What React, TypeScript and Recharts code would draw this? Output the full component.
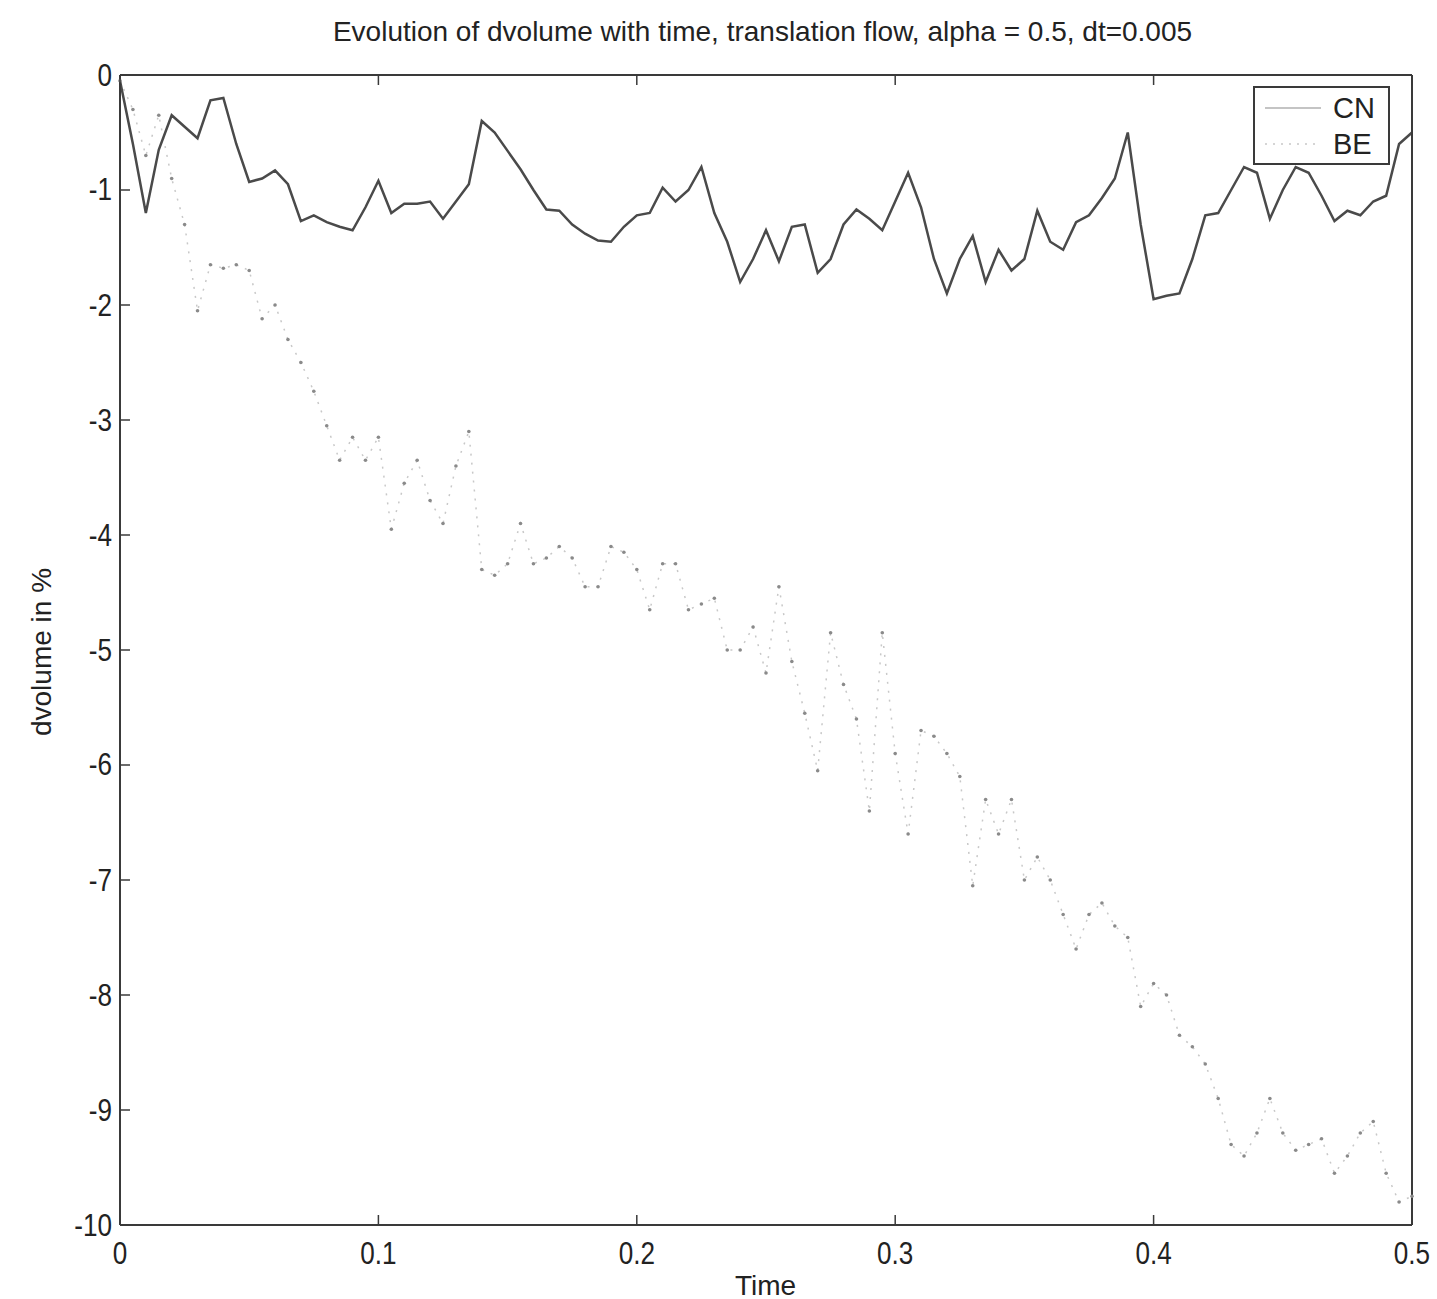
import { LineChart, Line, XAxis, YAxis } from 'recharts'

// time grid, dt = 0.005
const times = [
  0, 0.005, 0.01, 0.015, 0.02, 0.025, 0.03, 0.035, 0.04, 0.045,
  0.05, 0.055, 0.06, 0.065, 0.07, 0.075, 0.08, 0.085, 0.09, 0.095,
  0.1, 0.105, 0.11, 0.115, 0.12, 0.125, 0.13, 0.135, 0.14, 0.145,
  0.15, 0.155, 0.16, 0.165, 0.17, 0.175, 0.18, 0.185, 0.19, 0.195,
  0.2, 0.205, 0.21, 0.215, 0.22, 0.225, 0.23, 0.235, 0.24, 0.245,
  0.25, 0.255, 0.26, 0.265, 0.27, 0.275, 0.28, 0.285, 0.29, 0.295,
  0.3, 0.305, 0.31, 0.315, 0.32, 0.325, 0.33, 0.335, 0.34, 0.345,
  0.35, 0.355, 0.36, 0.365, 0.37, 0.375, 0.38, 0.385, 0.39, 0.395,
  0.4, 0.405, 0.41, 0.415, 0.42, 0.425, 0.43, 0.435, 0.44, 0.445,
  0.45, 0.455, 0.46, 0.465, 0.47, 0.475, 0.48, 0.485, 0.49, 0.495,
  0.5,
]

const cnValues = [
  -0.05, -0.6, -1.2, -0.65, -0.35, -0.45, -0.55, -0.22, -0.2, -0.6,
  -0.93, -0.9, -0.83, -0.95, -1.27, -1.22, -1.28, -1.32, -1.35, -1.15,
  -0.92, -1.2, -1.12, -1.12, -1.1, -1.25, -1.1, -0.95, -0.4, -0.5,
  -0.66, -0.82, -1.0, -1.17, -1.18, -1.3, -1.38, -1.44, -1.45, -1.32,
  -1.22, -1.2, -0.98, -1.1, -1.0, -0.8, -1.2, -1.45, -1.8, -1.6,
  -1.35, -1.62, -1.32, -1.3, -1.72, -1.6, -1.3, -1.17, -1.25, -1.35,
  -1.1, -0.85, -1.15, -1.6, -1.9, -1.6, -1.4, -1.8, -1.52, -1.7,
  -1.6, -1.18, -1.45, -1.52, -1.28, -1.22, -1.07, -0.9, -0.5, -1.3,
  -1.95, -1.92, -1.9, -1.6, -1.22, -1.2, -1.0, -0.8, -0.85, -1.25,
  -1.0, -0.8, -0.85, -1.05, -1.27, -1.18, -1.22, -1.1, -1.05, -0.6,
  -0.5,
]

const beValues = [
  -0.05, -0.3, -0.7, -0.35, -0.9, -1.3, -2.05, -1.65, -1.68, -1.65,
  -1.7, -2.12, -2.0, -2.3, -2.5, -2.75, -3.05, -3.35, -3.15, -3.35,
  -3.15, -3.95, -3.55, -3.35, -3.7, -3.9, -3.4, -3.1, -4.3, -4.35,
  -4.25, -3.9, -4.25, -4.2, -4.1, -4.2, -4.45, -4.45, -4.1, -4.15,
  -4.3, -4.65, -4.25, -4.25, -4.65, -4.6, -4.55, -5.0, -5.0, -4.8,
  -5.2, -4.45, -5.1, -5.55, -6.05, -4.85, -5.3, -5.6, -6.4, -4.85,
  -5.9, -6.6, -5.7, -5.75, -5.9, -6.1, -7.05, -6.3, -6.6, -6.3,
  -7.0, -6.8, -7.0, -7.3, -7.6, -7.3, -7.2, -7.4, -7.5, -8.1,
  -7.9, -8.0, -8.35, -8.45, -8.6, -8.9, -9.3, -9.4, -9.2, -8.9,
  -9.2, -9.35, -9.3, -9.25, -9.55, -9.4, -9.2, -9.1, -9.55, -9.8,
  -9.75,
]

const xTicks = [0, 0.1, 0.2, 0.3, 0.4, 0.5]
const yTicks = [0, -1, -2, -3, -4, -5, -6, -7, -8, -9, -10]
const seriesNames = ['CN', 'BE']

const chartData = times.map((t, i) => ({ t, cn: cnValues[i], be: beValues[i] }))

const FONT = "'Liberation Sans', Arial, sans-serif"
const AXIS = '#3a3a3a'

const LeftTick = ({ x, y, payload }: any) => (
  <g>
    <line x1={x} y1={y} x2={x + 10} y2={y} stroke={AXIS} strokeWidth={1.5} />
    <text
      x={x - 8}
      y={y}
      dy={10}
      textAnchor="end"
      fontSize={29}
      fill="#222"
      fontFamily={FONT}
      transform={`scale(0.9 1.05)`}
      style={{ transformBox: 'fill-box', transformOrigin: 'right center' }}
    >
      {payload.value}
    </text>
  </g>
)

const BottomTick = ({ x, y, payload }: any) => (
  <g>
    <line x1={x} y1={y} x2={x} y2={y - 10} stroke={AXIS} strokeWidth={1.5} />
    <text
      x={x}
      y={y}
      dy={38}
      textAnchor="middle"
      fontSize={29}
      fill="#222"
      fontFamily={FONT}
      transform={`scale(0.9 1.05)`}
      style={{ transformBox: 'fill-box', transformOrigin: 'center' }}
    >
      {payload.value}
    </text>
  </g>
)

const TopTick = ({ x, y }: any) => (
  <line x1={x} y1={y} x2={x} y2={y + 10} stroke={AXIS} strokeWidth={1.5} />
)

const RightTick = ({ x, y }: any) => (
  <line x1={x} y1={y} x2={x - 10} y2={y} stroke={AXIS} strokeWidth={1.5} />
)

const LegendBox = () => (
  <div
    style={{
      position: 'absolute',
      left: 1253,
      top: 86,
      width: 137,
      height: 79,
      border: `2px solid ${AXIS}`,
      background: '#fff',
      fontFamily: FONT,
      fontSize: 29,
      color: '#222',
      boxSizing: 'border-box',
    }}
  >
    {seriesNames.map((name, i) => (
      <div key={name} style={{ display: 'flex', alignItems: 'center', height: 36, marginTop: i === 0 ? 2 : 0 }}>
        <svg width={68} height={10} style={{ marginLeft: 10 }}>
          <line
            x1={0}
            y1={5}
            x2={56}
            y2={5}
            stroke={i === 0 ? '#b0b0b0' : '#c8c8c8'}
            strokeWidth={1.5}
            strokeDasharray={i === 0 ? undefined : '2 6'}
          />
        </svg>
        <span style={{ lineHeight: '36px' }}>{name}</span>
      </div>
    ))}
  </div>
)

export default function App() {
  return (
    <div style={{ position: 'absolute', left: 0, top: 0, width: 1437, height: 1299, background: '#fff' }}>
      <div
        style={{
          position: 'absolute',
          top: 16,
          left: 0,
          width: 1437,
          textAlign: 'center',
          paddingLeft: 88,
          boxSizing: 'border-box',
          fontFamily: FONT,
          fontSize: 28,
          color: '#222',
        }}
      >
        Evolution of dvolume with time, translation flow, alpha = 0.5, dt=0.005
      </div>
      <div
        style={{
          position: 'absolute',
          left: 42,
          top: 652,
          transform: 'translate(-50%, -50%) rotate(-90deg)',
          whiteSpace: 'nowrap',
          fontFamily: FONT,
          fontSize: 28,
          color: '#222',
        }}
      >
        dvolume in %
      </div>
      <div
        style={{
          position: 'absolute',
          top: 1270,
          left: 735,
          fontFamily: FONT,
          fontSize: 28,
          color: '#222',
        }}
      >
        Time
      </div>
      <LineChart
        width={1437}
        height={1299}
        data={chartData}
        margin={{ top: 65, right: 15, bottom: 24, left: 70 }}
      >
        <XAxis
          xAxisId="bottom"
          dataKey="t"
          type="number"
          domain={[0, 0.5]}
          ticks={xTicks}
          orientation="bottom"
          height={50}
          tickSize={0}
          tickMargin={0}
          tickLine={false}
          axisLine={{ stroke: AXIS, strokeWidth: 2 }}
          tick={<BottomTick />}
          interval={0}
        />
        <XAxis
          xAxisId="top"
          dataKey="t"
          type="number"
          domain={[0, 0.5]}
          ticks={xTicks}
          orientation="top"
          height={10}
          tickSize={0}
          tickMargin={0}
          tickLine={false}
          axisLine={{ stroke: AXIS, strokeWidth: 2 }}
          tick={<TopTick />}
          interval={0}
        />
        <YAxis
          yAxisId="left"
          type="number"
          domain={[-10, 0]}
          ticks={yTicks}
          width={50}
          tickSize={0}
          tickMargin={0}
          tickLine={false}
          axisLine={{ stroke: AXIS, strokeWidth: 2 }}
          tick={<LeftTick />}
          interval={0}
        />
        <YAxis
          yAxisId="right"
          orientation="right"
          type="number"
          domain={[-10, 0]}
          ticks={yTicks}
          width={10}
          tickSize={0}
          tickMargin={0}
          tickLine={false}
          axisLine={{ stroke: AXIS, strokeWidth: 2 }}
          tick={<RightTick />}
          interval={0}
        />
        <Line
          xAxisId="bottom"
          yAxisId="left"
          type="linear"
          dataKey="be"
          name="BE"
          stroke="#c8c8c8"
          strokeWidth={1.5}
          strokeDasharray="2 7"
          dot={{ r: 1.8, fill: '#8a8a8a', stroke: 'none' }}
          isAnimationActive={false}
        />
        <Line
          xAxisId="bottom"
          yAxisId="left"
          type="linear"
          dataKey="cn"
          name="CN"
          stroke="#4a4a4a"
          strokeWidth={2.5}
          dot={false}
          isAnimationActive={false}
        />
      </LineChart>
      <LegendBox />
    </div>
  )
}
